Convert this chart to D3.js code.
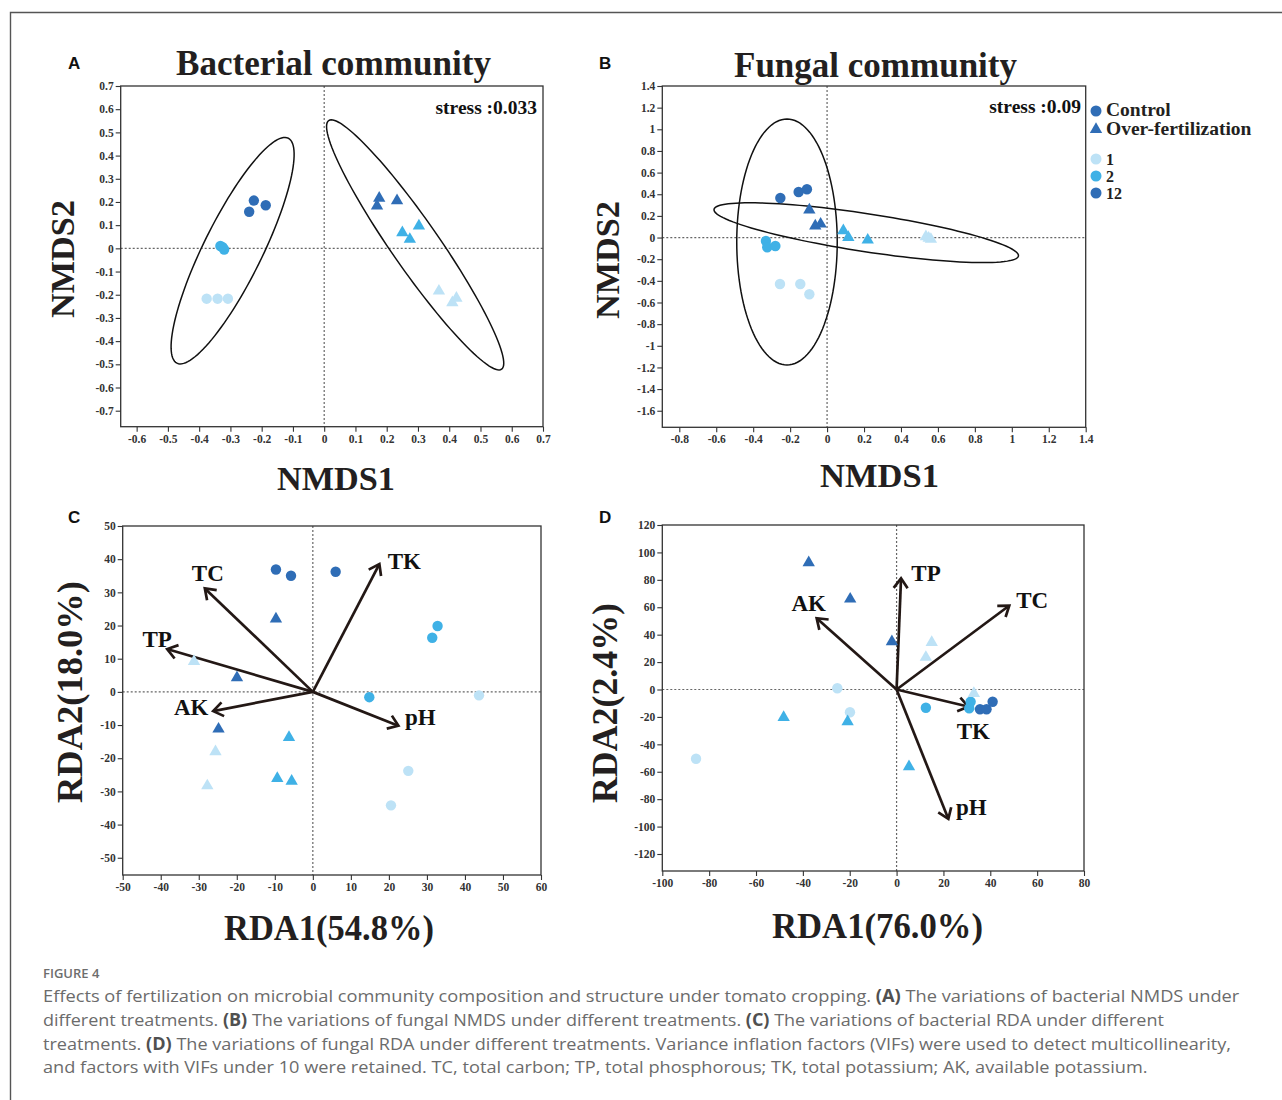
<!DOCTYPE html>
<html><head><meta charset="utf-8">
<script src="https://cdn.jsdelivr.net/npm/d3@7"></script>
<style>body{margin:0;background:#fff}svg{display:block}</style>
</head><body>
<svg id="fig" width="1282" height="1100"></svg>
<script>
// ---------------- data ----------------
const groupNames = ["1", "2", "12"];
const treatmentNames = ["Control", "Over-fertilization"];
const groupColors = ["#bde2f6", "#3fb1e6", "#2f6db6"];

// sample order (same in every panel): Control 12,12,12,2,2,2,1,1,1 then Over-fertilization 12,12,12,2,2,2,1,1,1
const sampleTreatment = [0,0,0,0,0,0,0,0,0,1,1,1,1,1,1,1,1,1];
const sampleGroup     = [2,2,2,1,1,1,0,0,0,2,2,2,1,1,1,0,0,0];

// A: bacterial NMDS
const bactNmdsX = [-0.240,-0.225,-0.187,-0.332,-0.325,-0.320,-0.376,-0.341,-0.308,0.176,0.169,0.233,0.303,0.250,0.274,0.367,0.423,0.410];
const bactNmdsY = [0.158,0.206,0.186,0.010,0.005,-0.005,-0.217,-0.217,-0.217,0.216,0.183,0.206,0.097,0.068,0.039,-0.184,-0.215,-0.234];
// confidence ellipses: centre x, centre y, semi-axis vector u (x,y), semi-axis vector v (x,y)
const bactEllipseCx = [-0.293, 0.291];
const bactEllipseCy = [-0.010, 0.015];
const bactEllipseU  = [[0.178, 0.485], [0.2765, -0.536]];
const bactEllipseV  = [[0.084, -0.056], [0.0623, 0.0583]];
const bactStress = "stress :0.033";

// B: fungal NMDS
const fungNmdsX = [-0.253,-0.154,-0.109,-0.331,-0.324,-0.280,-0.255,-0.145,-0.096,-0.096,-0.064,-0.035,0.088,0.115,0.220,0.535,0.562,0.550];
const fungNmdsY = [0.365,0.421,0.446,-0.032,-0.090,-0.078,-0.429,-0.429,-0.524,0.255,0.107,0.125,0.063,0.002,-0.023,0.008,-0.016,-0.005];
const fungEllipseCx = [-0.217, 0.212];
const fungEllipseCy = [-0.041, 0.045];
const fungEllipseU  = [[0, 1.136], [0.824, -0.215]];
const fungEllipseV  = [[0.272, 0], [0.0155, 0.1735]];
const fungStress = "stress :0.09";

// C: bacterial RDA
const bactRdaX = [-9.7,-5.74,6.0,32.8,31.4,14.85,43.7,25.1,20.55,-9.7,-19.95,-24.8,-6.27,-9.35,-5.57,-31.25,-25.6,-27.75];
const bactRdaY = [36.9,35.0,36.2,19.85,16.3,-1.6,-1.05,-23.8,-34.2,22.0,4.27,-11.2,-13.7,-26.1,-26.9,9.2,-18.0,-28.3];
const bactEnvNames = ["TC", "TP", "AK", "TK", "pH"];
const bactEnvX = [-28.4, -38.3, -26.2, 17.5, 22.5];
const bactEnvY = [31.2, 12.9, -5.8, 38.5, -10.2];

// D: fungal RDA
const fungRdaX = [35.6,38.4,41.0,12.5,31.0,31.6,-25.3,-19.9,-85.6,-37.5,-19.8,-2.0,-48.2,-20.9,5.3,15.0,12.5,33.0];
const fungRdaY = [-14.4,-14.4,-8.9,-13.3,-13.7,-8.9,0.9,-16.6,-50.5,92.5,66.0,34.9,-20.3,-23.5,-56.3,34.4,23.5,-2.8];
const fungEnvNames = ["TP", "AK", "TC", "TK", "pH"];
const fungEnvX = [1.9, -34.1, 48.1, 30.6, 22.1];
const fungEnvY = [81.1, 52.0, 61.2, -12.5, -94.4];

// tick labels
const bactNmdsXTicks = [-0.6,-0.5,-0.4,-0.3,-0.2,-0.1,0,0.1,0.2,0.3,0.4,0.5,0.6,0.7];
const bactNmdsYTicks = [-0.7,-0.6,-0.5,-0.4,-0.3,-0.2,-0.1,0,0.1,0.2,0.3,0.4,0.5,0.6,0.7];
const fungNmdsXTicks = [-0.8,-0.6,-0.4,-0.2,0,0.2,0.4,0.6,0.8,1,1.2,1.4];
const fungNmdsYTicks = [-1.6,-1.4,-1.2,-1,-0.8,-0.6,-0.4,-0.2,0,0.2,0.4,0.6,0.8,1,1.2,1.4];
const bactRdaXTicks = [-50,-40,-30,-20,-10,0,10,20,30,40,50,60];
const bactRdaYTicks = [-50,-40,-30,-20,-10,0,10,20,30,40,50];
const fungRdaXTicks = [-100,-80,-60,-40,-20,0,20,40,60,80];
const fungRdaYTicks = [-120,-100,-80,-60,-40,-20,0,20,40,60,80,100,120];

const captionHead = "FIGURE 4";
const captionLines = [
  [["Effects of fertilization on microbial community composition and structure under tomato cropping. ", 0], ["(A)", 1], [" The variations of bacterial NMDS under", 0]],
  [["different treatments. ", 0], ["(B)", 1], [" The variations of fungal NMDS under different treatments. ", 0], ["(C)", 1], [" The variations of bacterial RDA under different", 0]],
  [["treatments. ", 0], ["(D)", 1], [" The variations of fungal RDA under different treatments. Variance inflation factors (VIFs) were used to detect multicollinearity,", 0]],
  [["and factors with VIFs under 10 were retained. TC, total carbon; TP, total phosphorous; TK, total potassium; AK, available potassium.", 0]]
];

// ---------------- drawing ----------------
const svg = d3.select("#fig");
const SERIF = '"Liberation Serif","Times New Roman",Times,serif';
const SANS = '"Liberation Sans",Arial,Helvetica,sans-serif';
const AXIS_COL = "#333";
const ARROW_COL = "#231815";

// outer figure frame
svg.append("path").attr("d", "M10.5,1100 V12.5 H1282").attr("fill", "none").attr("stroke", "#555").attr("stroke-width", 1.4);

const fmt = v => String(+v.toFixed(3));
const triangle = d3.symbol().type(d3.symbolTriangle).size(66);

function drawPanel(cfg) {
  const g = svg.append("g");
  const x = d3.scaleLinear().domain(cfg.xDom).range(cfg.xRange);
  const y = d3.scaleLinear().domain(cfg.yDom).range(cfg.yRange);
  const [x0, x1] = cfg.xRange, [y1, y0] = cfg.yRange; // y0 top, y1 bottom

  // zero reference lines
  g.append("line").attr("x1", x(0)).attr("x2", x(0)).attr("y1", y0).attr("y2", y1)
    .attr("stroke", "#666").attr("stroke-width", 1.2).attr("stroke-dasharray", "2,2");
  g.append("line").attr("x1", x0).attr("x2", x1).attr("y1", y(0)).attr("y2", y(0))
    .attr("stroke", "#666").attr("stroke-width", 1.2).attr("stroke-dasharray", "2,2");

  // axes
  const ax = g.append("g").attr("transform", `translate(0,${y1})`)
    .call(d3.axisBottom(x).tickValues(cfg.xTicks).tickFormat(fmt).tickSize(5).tickPadding(3).tickSizeOuter(0));
  const ay = g.append("g").attr("transform", `translate(${x0},0)`)
    .call(d3.axisLeft(y).tickValues(cfg.yTicks).tickFormat(fmt).tickSize(5).tickPadding(2).tickSizeOuter(0));
  [ax, ay].forEach(a => {
    a.select(".domain").remove();
    a.selectAll("line").attr("stroke", AXIS_COL).attr("stroke-width", 1.1);
    a.selectAll("text").attr("fill", AXIS_COL).style("font-family", SERIF)
      .style("font-weight", "bold").style("font-size", "11.5px");
  });
  // frame
  g.append("rect").attr("x", x0).attr("y", y0).attr("width", x1 - x0).attr("height", y1 - y0)
    .attr("fill", "none").attr("stroke", AXIS_COL).attr("stroke-width", 1.3);

  // ellipses
  if (cfg.ellCx) {
    const steps = d3.range(0, 121).map(i => i / 120 * 2 * Math.PI);
    const line = d3.line().x(d => x(d[0])).y(d => y(d[1])).curve(d3.curveLinearClosed);
    cfg.ellCx.forEach((cx, i) => {
      const cy = cfg.ellCy[i], u = cfg.ellU[i], v = cfg.ellV[i];
      const pts = steps.map(t => [cx + u[0] * Math.cos(t) + v[0] * Math.sin(t), cy + u[1] * Math.cos(t) + v[1] * Math.sin(t)]);
      g.append("path").attr("d", line(pts)).attr("fill", "none").attr("stroke", "#111").attr("stroke-width", 1.5);
    });
  }

  // environmental arrows
  if (cfg.envX) {
    cfg.envX.forEach((ex, i) => {
      const ox = x(0), oy = y(0), tx = x(ex), ty = y(cfg.envY[i]);
      const a = Math.atan2(ty - oy, tx - ox), L = 12, phi = 0.62;
      g.append("line").attr("x1", ox).attr("y1", oy).attr("x2", tx - 1.5 * Math.cos(a)).attr("y2", ty - 1.5 * Math.sin(a))
        .attr("stroke", ARROW_COL).attr("stroke-width", 2.7);
      const p1 = [tx - L * Math.cos(a - phi), ty - L * Math.sin(a - phi)];
      const p2 = [tx - L * Math.cos(a + phi), ty - L * Math.sin(a + phi)];
      g.append("path").attr("d", `M${p1[0]},${p1[1]}L${tx},${ty}L${p2[0]},${p2[1]}`)
        .attr("fill", "none").attr("stroke", ARROW_COL).attr("stroke-width", 2.7).attr("stroke-linejoin", "miter");
      const off = cfg.labelOffsets[i];
      g.append("text").attr("x", tx + off[0]).attr("y", ty + off[1]).attr("text-anchor", "middle")
        .style("font-family", SERIF).style("font-weight", "bold").style("font-size", "23px").attr("fill", "#111")
        .text(cfg.envNames[i]);
    });
  }

  // samples
  cfg.xs.forEach((vx, i) => {
    const px = x(vx), py = y(cfg.ys[i]);
    const col = groupColors[sampleGroup[i]];
    if (sampleTreatment[i] === 0) {
      g.append("circle").attr("cx", px).attr("cy", py).attr("r", 5.2).attr("fill", col);
    } else {
      g.append("path").attr("d", triangle()).attr("transform", `translate(${px},${py})`).attr("fill", col);
    }
  });

  // stress label
  if (cfg.stress) {
    g.append("text").attr("x", cfg.stressPos[0]).attr("y", cfg.stressPos[1]).attr("text-anchor", "end")
      .style("font-family", SERIF).style("font-weight", "bold").style("font-size", "19.5px").attr("fill", "#111")
      .text(cfg.stress);
  }
  return {x, y};
}

drawPanel({xs: bactNmdsX, ys: bactNmdsY, xDom: [-0.651, 0.7], yDom: [-0.769, 0.7],
  xRange: [120.7, 543], yRange: [426.7, 86], xTicks: bactNmdsXTicks, yTicks: bactNmdsYTicks,
  ellCx: bactEllipseCx, ellCy: bactEllipseCy, ellU: bactEllipseU, ellV: bactEllipseV,
  stress: bactStress, stressPos: [537, 113.5]});
drawPanel({xs: fungNmdsX, ys: fungNmdsY, xDom: [-0.892, 1.4], yDom: [-1.753, 1.4],
  xRange: [662.3, 1085.7], yRange: [427.3, 86], xTicks: fungNmdsXTicks, yTicks: fungNmdsYTicks,
  ellCx: fungEllipseCx, ellCy: fungEllipseCy, ellU: fungEllipseU, ellV: fungEllipseV,
  stress: fungStress, stressPos: [1081, 112.5]});
drawPanel({xs: bactRdaX, ys: bactRdaY, xDom: [-50, 60], yDom: [-55.2, 50],
  xRange: [122.7, 541], yRange: [875, 526], xTicks: bactRdaXTicks, yTicks: bactRdaYTicks,
  envX: bactEnvX, envY: bactEnvY, envNames: bactEnvNames,
  labelOffsets: [[3, -7], [-10, -2], [-22, 4], [25, 5], [22, -1]]});
drawPanel({xs: fungRdaX, ys: fungRdaY, xDom: [-100, 80], yDom: [-132.4, 120],
  xRange: [662.3, 1084], yRange: [871, 525], xTicks: fungRdaXTicks, yTicks: fungRdaYTicks,
  envX: fungEnvX, envY: fungEnvY, envNames: fungEnvNames,
  labelOffsets: [[25, 3], [-8, -7], [23, 2], [5, 32], [23, -4]]});

// text helpers
function addText(t, x, y, size, family, weight, target, rotate) {
  const el = svg.append("text")
    .attr("transform", rotate ? `translate(${x},${y}) rotate(-90)` : `translate(${x},${y})`)
    .attr("text-anchor", "middle").style("font-family", family).style("font-weight", weight)
    .style("font-size", size + "px").attr("fill", "#231f20").text(t);
  if (target) el.attr("textLength", target).attr("lengthAdjust", "spacingAndGlyphs");
  return el;
}

// titles
addText("Bacterial community", 333.5, 75, 35, SERIF, "bold", 315);
addText("Fungal community", 875.5, 77, 35, SERIF, "bold", 283);
// axis titles
addText("NMDS2", 74, 259, 34, SERIF, "bold", 118, true);
addText("NMDS2", 619, 260, 34, SERIF, "bold", 118, true);
addText("NMDS1", 336, 490, 34, SERIF, "bold", 118);
addText("NMDS1", 879.5, 487, 34, SERIF, "bold", 119);
addText("RDA2(18.0%)", 82, 692, 36, SERIF, "bold", 222, true);
addText("RDA2(2.4%)", 617, 703, 36, SERIF, "bold", 200, true);
addText("RDA1(54.8%)", 329, 940, 35, SERIF, "bold", 210);
addText("RDA1(76.0%)", 877.5, 938, 35, SERIF, "bold", 211);

// panel letters
[["A", 68, 69], ["B", 599, 69], ["C", 68, 523], ["D", 599, 523]].forEach(([t, x, y]) => {
  svg.append("text").attr("x", x).attr("y", y).style("font-family", SANS).style("font-weight", "bold")
    .style("font-size", "17px").attr("fill", "#111").text(t);
});

// legend
const legend = svg.append("g").style("font-family", SERIF).style("font-weight", "bold").attr("fill", "#231f20");
treatmentNames.forEach((name, i) => {
  const cy = 111 + i * 18.5;
  if (i === 0) legend.append("circle").attr("cx", 1096).attr("cy", cy).attr("r", 5.5).attr("fill", groupColors[2]);
  else legend.append("path").attr("d", triangle()).attr("transform", `translate(1096,${cy})`).attr("fill", groupColors[2]);
  legend.append("text").attr("x", 1106).attr("y", cy + 5).style("font-size", "19.5px").text(name);
});
groupNames.forEach((name, i) => {
  const cy = 159 + i * 17;
  legend.append("circle").attr("cx", 1096).attr("cy", cy).attr("r", 5.5).attr("fill", groupColors[i]);
  legend.append("text").attr("x", 1106).attr("y", cy + 6).style("font-size", "16px").text(name);
});

// caption
svg.append("text").attr("x", 43).attr("y", 978).style("font-family", '"Open Sans",sans-serif')
  .style("font-size", "13px").style("font-weight", 600).attr("fill", "#6d6d6d").text(captionHead);
const capTargets = [1197, 1122, 1189, 1105];
captionLines.forEach((runs, i) => {
  const t = svg.append("text").attr("x", 0).attr("y", 0).style("font-family", '"Open Sans",sans-serif')
    .style("font-size", "17px").attr("fill", "#6b6b6b");
  runs.forEach(([s, b]) => {
    t.append("tspan").text(s).style("font-weight", b ? "bold" : "normal").attr("fill", b ? "#505050" : "#6b6b6b");
  });
  const w = t.node().getComputedTextLength();
  t.attr("transform", `translate(43,${1002 + i * 23.8}) scale(${capTargets[i] / w},1)`);
});
</script>
</body></html>
